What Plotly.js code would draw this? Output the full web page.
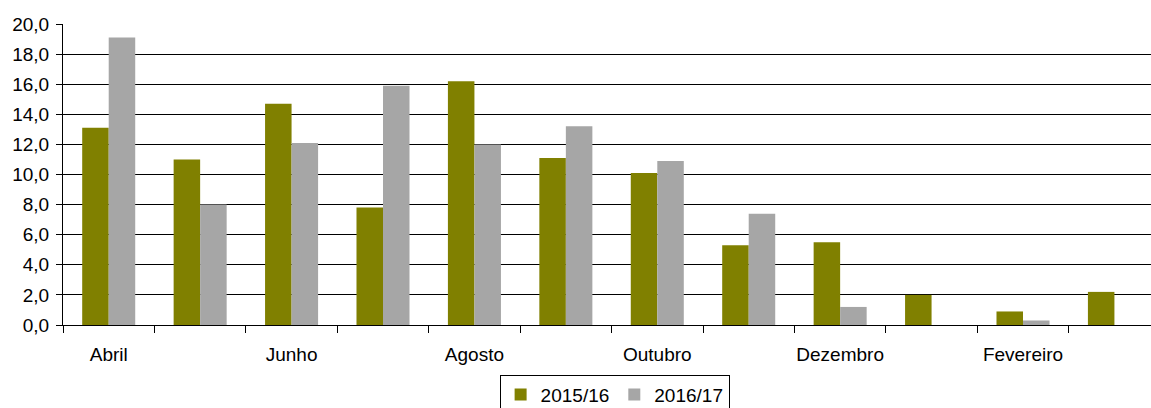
<!DOCTYPE html>
<html>
<head>
<meta charset="utf-8">
<script src="https://cdn.plot.ly/plotly-3.0.1.min.js"></script>
<style>html,body{margin:0;padding:0;background:#fff;}</style>
</head>
<body>
<div id="chart" style="width:1151px;height:408px;"></div>
<script>
var months = ["Abril","Maio","Junho","Julho","Agosto","Setembro","Outubro","Novembro","Dezembro","Janeiro","Fevereiro","Março"];
var tickLabels = ["Abril","","Junho","","Agosto","","Outubro","","Dezembro","","Fevereiro",""];
var s2015 = [13.1, 11.0, 14.7, 7.8, 16.2, 11.1, 10.1, 5.3, 5.5, 2.0, 0.9, 2.2];
var s2016 = [19.1, 8.0, 12.1, 15.9, 12.0, 13.2, 10.9, 7.4, 1.2, null, 0.3, null];
var yTicks = [0,2,4,6,8,10,12,14,16,18,20];

var traces = [
  {type:"bar", name:"2015/16", x:months, y:s2015, marker:{color:"#808000"}},
  {type:"bar", name:"2016/17", x:months, y:s2016, marker:{color:"#A6A6A6"}}
];
var layout = {
  width:1151, height:408,
  margin:{l:63, r:0, t:24, b:83},
  paper_bgcolor:"#fff", plot_bgcolor:"#fff",
  separators:",.",
  font:{family:"Liberation Sans, Arial, sans-serif", size:19, color:"#000"},
  barmode:"group", bargap:0.42, bargroupgap:0,
  xaxis:{type:"category", range:[-0.5, 11.4], tickmode:"array", tickvals:months, ticktext:tickLabels,
    tickson:"boundaries", ticks:"outside", ticklen:7, tickcolor:"#000", showline:true, linecolor:"#000", linewidth:1,
    showgrid:false, zeroline:false, tickangle:0, automargin:false, ticklabelstandoff:12, tickfont:{size:19}},
  yaxis:{range:[0,20], tickmode:"array", tickvals:yTicks, tickformat:".1f", ticks:"outside", ticklen:6, tickcolor:"#000",
    showline:true, linecolor:"#000", linewidth:1, showgrid:true, gridcolor:"#000", gridwidth:1, zeroline:false,
    automargin:false, ticklabelstandoff:3, tickfont:{size:19}},
  legend:{orientation:"h", x:0.507, xanchor:"center", yref:"container", y:0.082, yanchor:"top", bordercolor:"#000", borderwidth:1,
    font:{size:19}, itemwidth:30, tracegroupgap:0},
  showlegend:true
};
Plotly.newPlot("chart", traces, layout, {displayModeBar:false, staticPlot:true});
</script>
</body>
</html>
